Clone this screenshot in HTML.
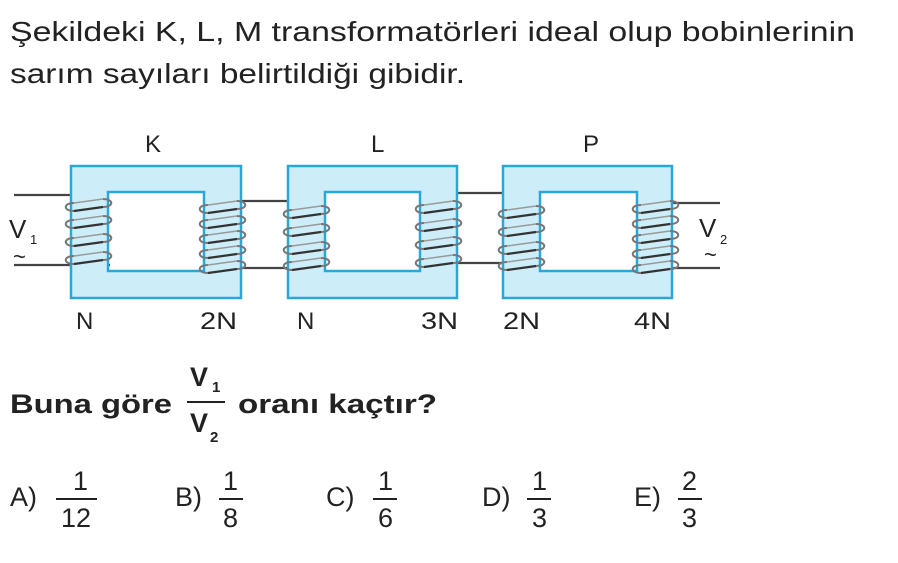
<!DOCTYPE html>
<html><head><meta charset="utf-8"><style>
body{margin:0;background:#fff;}
svg{display:block;font-family:"Liberation Sans",sans-serif;}
</style></head><body>
<svg width="898" height="563" viewBox="0 0 898 563">
<defs>
<g id="t" fill="none">
<path d="M4,8 C-7,8 -7,0 4,0" stroke="#777" stroke-width="2"/>
<path d="M33,-4 C44,-4 44,4 33,4" stroke="#777" stroke-width="2"/>
<path d="M4,8 L33,4" stroke="#333" stroke-width="2.2"/>
<path d="M4,0 L33,-4" stroke="#999" stroke-width="1.4"/>
</g>
</defs>
<text x="10" y="41" font-size="28" fill="#222" textLength="845" lengthAdjust="spacingAndGlyphs">Şekildeki K, L, M transformatörleri ideal olup bobinlerinin</text>
<text x="10" y="83" font-size="28" fill="#222" textLength="455" lengthAdjust="spacingAndGlyphs">sarım sayıları belirtildiği gibidir.</text>
<text x="145" y="152" font-size="24" fill="#222">K</text>
<text x="371" y="152" font-size="24" fill="#222">L</text>
<text x="583" y="152" font-size="24" fill="#222">P</text>
<g stroke="#444" stroke-width="2.2">
<line x1="14" y1="195" x2="72" y2="195"/><line x1="14" y1="265" x2="110" y2="265"/>
<line x1="241" y1="201" x2="288" y2="201"/><line x1="241" y1="268" x2="290" y2="268"/>
<line x1="457" y1="193" x2="503" y2="193"/><line x1="440" y1="263" x2="505" y2="263"/>
<line x1="637" y1="203" x2="720" y2="203"/><line x1="672" y1="268" x2="720" y2="268"/>
</g>
<g fill="#cdeef9" stroke="#29a7d9" stroke-width="2.5">
<path d="M71,166H241V298H71Z M108,192V271H204V192Z" fill-rule="evenodd"/>
<path d="M288,166H457V298H288Z M325,192V271H420V192Z" fill-rule="evenodd"/>
<path d="M503,166H672V298H503Z M540,192V271H637V192Z" fill-rule="evenodd"/>
</g>
<use href="#t" x="70" y="203"/><use href="#t" x="70" y="220"/><use href="#t" x="70" y="238"/><use href="#t" x="70" y="256"/>
<use href="#t" x="204" y="205"/><use href="#t" x="204" y="220"/><use href="#t" x="204" y="235"/><use href="#t" x="204" y="250"/><use href="#t" x="204" y="265"/>
<use href="#t" x="288" y="210"/><use href="#t" x="288" y="228"/><use href="#t" x="288" y="246"/><use href="#t" x="288" y="262"/>
<use href="#t" x="420" y="205"/><use href="#t" x="420" y="223"/><use href="#t" x="420" y="241"/><use href="#t" x="420" y="259"/>
<use href="#t" x="503" y="210"/><use href="#t" x="503" y="228"/><use href="#t" x="503" y="246"/><use href="#t" x="503" y="262"/>
<use href="#t" x="637" y="205"/><use href="#t" x="637" y="220"/><use href="#t" x="637" y="235"/><use href="#t" x="637" y="250"/><use href="#t" x="637" y="265"/>
<text x="9" y="238" font-size="26" fill="#222">V</text><text x="30" y="244" font-size="13" fill="#222">1</text>
<text x="13" y="264" font-size="22" fill="#222">~</text>
<text x="699" y="237" font-size="26" fill="#222">V</text><text x="720" y="244" font-size="13" fill="#222">2</text>
<text x="704" y="262" font-size="22" fill="#222">~</text>
<g font-size="24" fill="#222">
<text x="76" y="329">N</text><text x="200" y="329" textLength="37" lengthAdjust="spacingAndGlyphs">2N</text><text x="297" y="329">N</text>
<text x="421" y="329" textLength="37" lengthAdjust="spacingAndGlyphs">3N</text><text x="503" y="329" textLength="37" lengthAdjust="spacingAndGlyphs">2N</text><text x="634" y="329" textLength="37" lengthAdjust="spacingAndGlyphs">4N</text>
</g>
<g font-size="27" font-weight="bold" fill="#222">
<text x="10" y="413" textLength="162" lengthAdjust="spacingAndGlyphs">Buna göre</text>
<text x="190" y="386">V</text><text x="212" y="392" font-size="15">1</text>
<line x1="187" y1="402" x2="225" y2="402" stroke="#222" stroke-width="2"/>
<text x="190" y="432">V</text><text x="210" y="442" font-size="15">2</text>
<text x="238" y="413" textLength="199" lengthAdjust="spacingAndGlyphs">oranı kaçtır?</text>
</g>
<g font-size="27" fill="#222">
<text x="10" y="506">A)</text><text x="73" y="490">1</text><line x1="56" y1="499" x2="97" y2="499" stroke="#222" stroke-width="2"/><text x="61" y="527">12</text>
<text x="175" y="506">B)</text><text x="223" y="490">1</text><line x1="219" y1="499" x2="243" y2="499" stroke="#222" stroke-width="2"/><text x="223" y="527">8</text>
<text x="326" y="506">C)</text><text x="378" y="490">1</text><line x1="373" y1="499" x2="397" y2="499" stroke="#222" stroke-width="2"/><text x="378" y="527">6</text>
<text x="482" y="506">D)</text><text x="532" y="490">1</text><line x1="527" y1="499" x2="551" y2="499" stroke="#222" stroke-width="2"/><text x="532" y="527">3</text>
<text x="634" y="506">E)</text><text x="682" y="490">2</text><line x1="678" y1="499" x2="702" y2="499" stroke="#222" stroke-width="2"/><text x="682" y="527">3</text>
</g>
</svg>
</body></html>
